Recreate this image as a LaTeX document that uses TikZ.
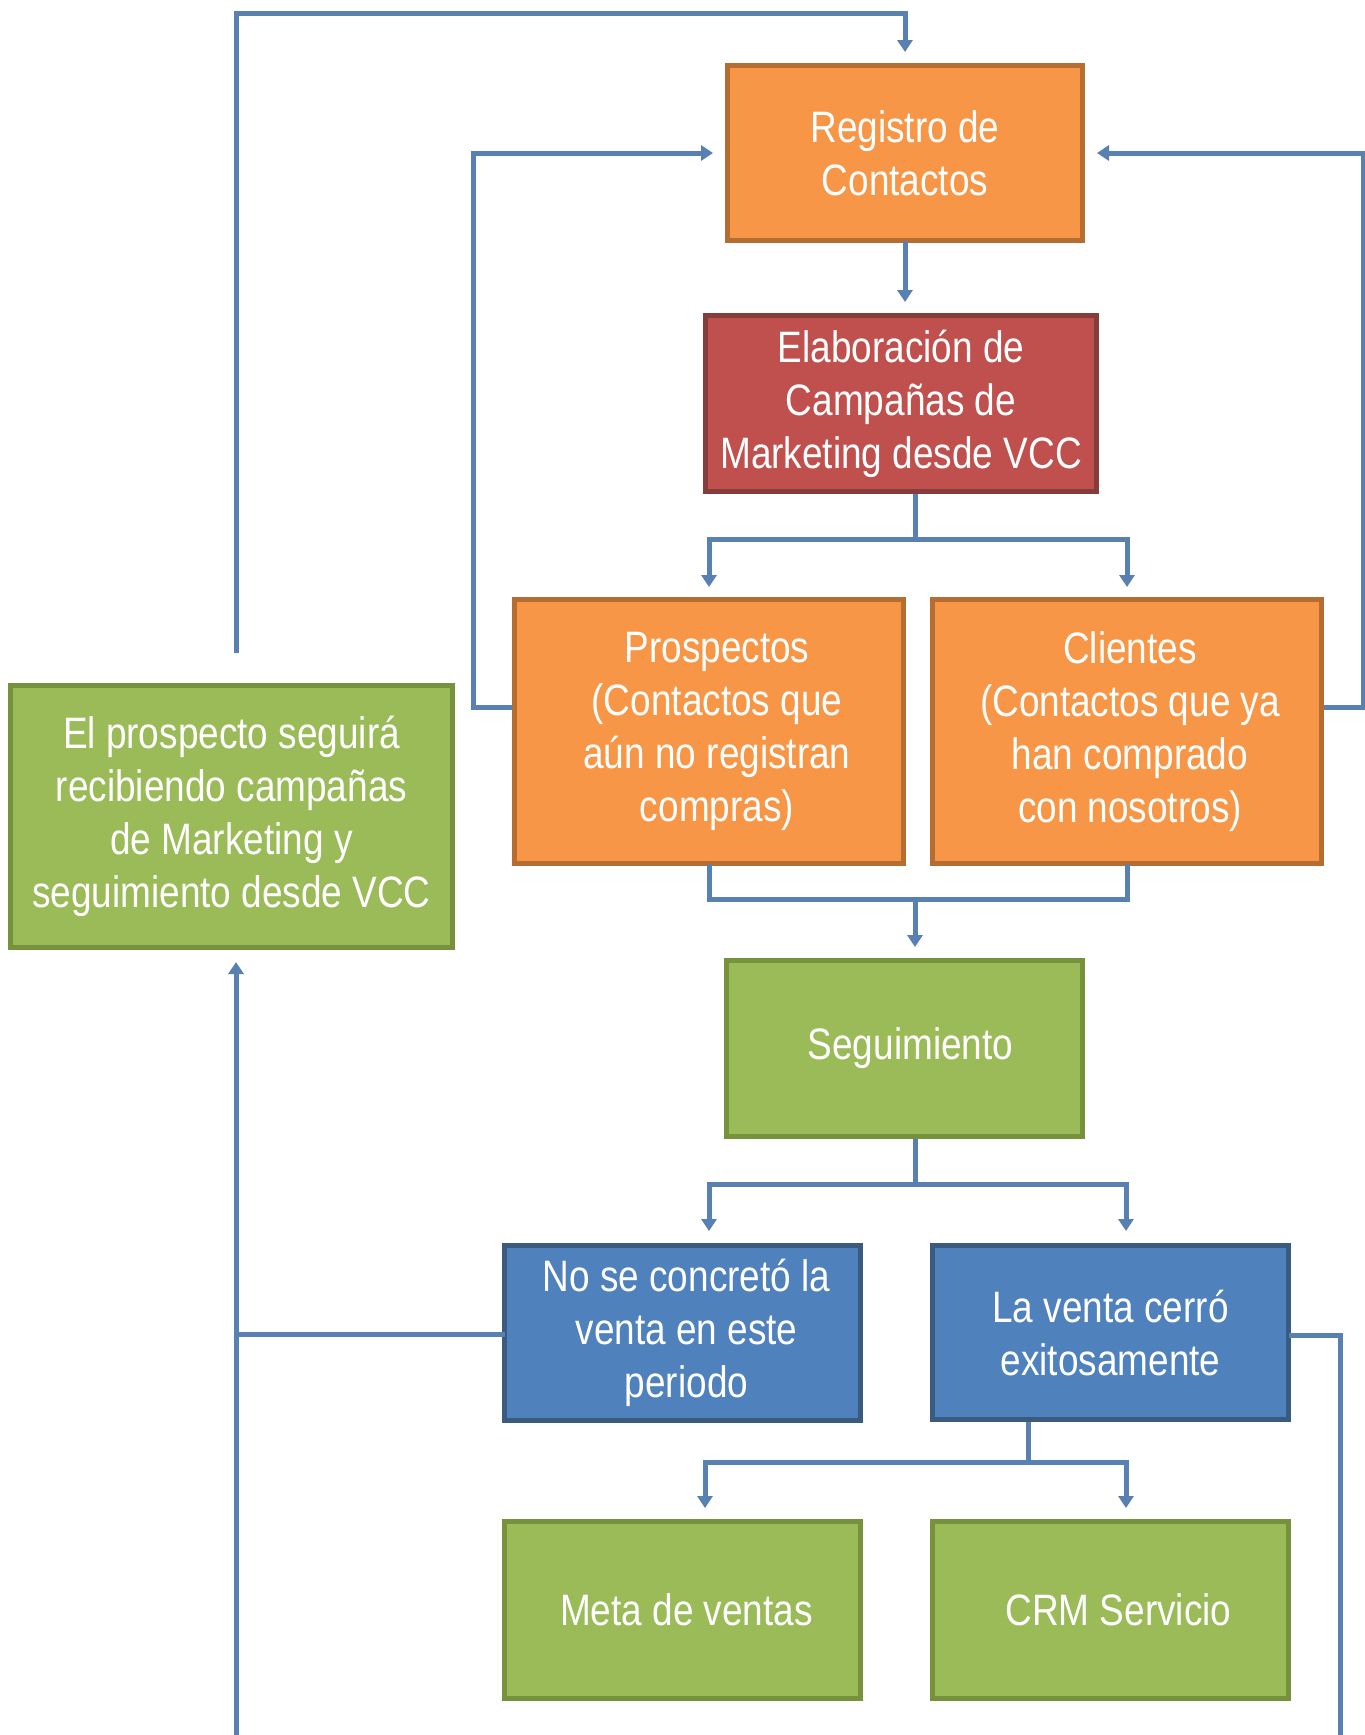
\documentclass[tikz,border=0pt]{standalone}
\usepackage{fontspec}
\setmainfont[FakeStretch=0.84]{Liberation Sans}
\usetikzlibrary{arrows.meta,calc}
\definecolor{conn}{HTML}{5880B0}
\definecolor{ofill}{HTML}{F79646}
\definecolor{oline}{HTML}{B66D31}
\definecolor{rfill}{HTML}{C0504D}
\definecolor{rline}{HTML}{843D3B}
\definecolor{gfill}{HTML}{9BBB59}
\definecolor{gline}{HTML}{76923C}
\definecolor{bfill}{HTML}{4F81BD}
\definecolor{bline}{HTML}{3A5A7F}
\tikzset{
  box/.style={rectangle, line width=5pt, inner sep=0pt, outer sep=0pt, align=center,
    text=white, font=\fontsize{44}{53}\selectfont},
  obox/.style={box, draw=oline, fill=ofill},
  rbox/.style={box, draw=rline, fill=rfill},
  gbox/.style={box, draw=gline, fill=gfill},
  bbox/.style={box, draw=bline, fill=bfill},
  wire/.style={draw=conn, line width=5pt},
  arr/.style={wire, -{Triangle[width=15pt,length=12pt]}},
}
\begin{document}
\begin{tikzpicture}[x=1pt,y=-1pt]
\useasboundingbox (0,0) rectangle (1365,1735);
\fill[white] (0,0) rectangle (1365,1735);

\node[obox, minimum width=355pt, minimum height=175pt] (reg) at (905,153) {Registro de\\Contactos};
\node[rbox, minimum width=391pt, minimum height=176pt] (elab) at (901,403.5) {\raisebox{-4pt}{\parbox{380pt}{\centering Elaboración de\\Campañas de\\Marketing desde VCC}}};
\node[obox, minimum width=389pt, minimum height=264pt] (prosp) at (709,731.5) {\hspace{16pt}\parbox{360pt}{\centering Prospectos\\(Contactos que\\aún no registran\\compras)}};
\node[obox, minimum width=389pt, minimum height=264pt] (cli) at (1127,731.5) {\hspace{6pt}\parbox{370pt}{\centering Clientes\\(Contactos que ya\\han comprado\\con nosotros)}};
\node[gbox, minimum width=442pt, minimum height=262pt] (sigue) at (231.5,816.5) {El prospecto seguirá\\recibiendo campañas\\de Marketing y\\seguimiento desde VCC};
\node[gbox, minimum width=356pt, minimum height=176pt] (seg) at (904.5,1048.5) {\hspace{12pt}Seguimiento};
\node[bbox, minimum width=356pt, minimum height=175pt] (no) at (682.5,1333) {\hspace{8pt}\parbox{340pt}{\centering No se concretó la\\venta en este\\periodo}};
\node[bbox, minimum width=356pt, minimum height=174pt] (venta) at (1110.5,1332.5) {La venta cerró\\exitosamente};
\node[gbox, minimum width=356pt, minimum height=177pt] (meta) at (682.5,1610) {\hspace{8pt}Meta de ventas};
\node[gbox, minimum width=356pt, minimum height=177pt] (crm) at (1110.5,1610) {\hspace{16pt}CRM Servicio};

% top loop
\coordinate (t1) at (236,653);
\coordinate (t2) at (905,13);
\draw[arr, shorten >=13.5pt] (t1) |- (t2) -- (reg.north);

% registro -> elaboracion
\draw[arr, shorten >=13.5pt] (reg.south) -- (reg.south |- elab.north);

% elaboracion -> prospectos / clientes
\coordinate (e0) at (915,494);
\coordinate (e1) at (915,539);
\draw[wire] (e0) -- (e1);
\draw[arr, shorten >=12.5pt] (e1) -| (prosp.north);
\draw[arr, shorten >=12.5pt] (e1) -| (cli.north);

% prospectos / clientes -> seguimiento
\coordinate (j2) at (915,899);
\draw[wire] (prosp.south) |- (j2) -| (cli.south);
\draw[arr, shorten >=13.5pt] (j2) -- (j2 |- seg.north);

% seguimiento -> no / venta
\coordinate (s0) at (915,1139);
\coordinate (s1) at (915,1184);
\coordinate (s2) at (709,1184);
\coordinate (s3) at (1126,1184);
\draw[wire] (s0) -- (s1);
\draw[arr, shorten >=14.5pt] (s1) -- (s3) -- (s3 |- venta.north);
\draw[arr, shorten >=14.5pt] (s1) -- (s2) -- (s2 |- no.north);

% venta -> meta / crm
\coordinate (v0) at (1028,1422);
\coordinate (v1) at (1028,1462);
\coordinate (v2) at (705,1462);
\coordinate (v3) at (1126,1462);
\draw[wire] (v0) -- (v1);
\draw[arr, shorten >=13.5pt] (v1) -- (v2) -- (v2 |- meta.north);
\draw[arr, shorten >=13.5pt] (v1) -- (v3) -- (v3 |- crm.north);

% left loop prospectos -> registro
\coordinate (p1) at (512,707);
\coordinate (p2) at (473,707);
\draw[arr, shorten >=14.5pt] (p1) -- (p2) |- (reg.west);

% right loop clientes -> registro
\coordinate (q1) at (1324,707);
\coordinate (q2) at (1363,707);
\draw[arr, shorten >=14.5pt] (q1) -- (q2) |- (reg.east);

% no -> prospecto sigue
\coordinate (n1) at (236,1334);
\draw[wire] (no.west |- n1) -- (n1);

% venta -> bottom loop -> prospecto sigue
\coordinate (r1) at (1340,1335);
\coordinate (r2) at (1340,1738);
\coordinate (r3) at (236,1738);
\draw[arr, shorten >=14.5pt] (venta.east |- r1) -- (r1) -- (r2) -- (r3) -- (r3 |- sigue.south);
\end{tikzpicture}
\end{document}
